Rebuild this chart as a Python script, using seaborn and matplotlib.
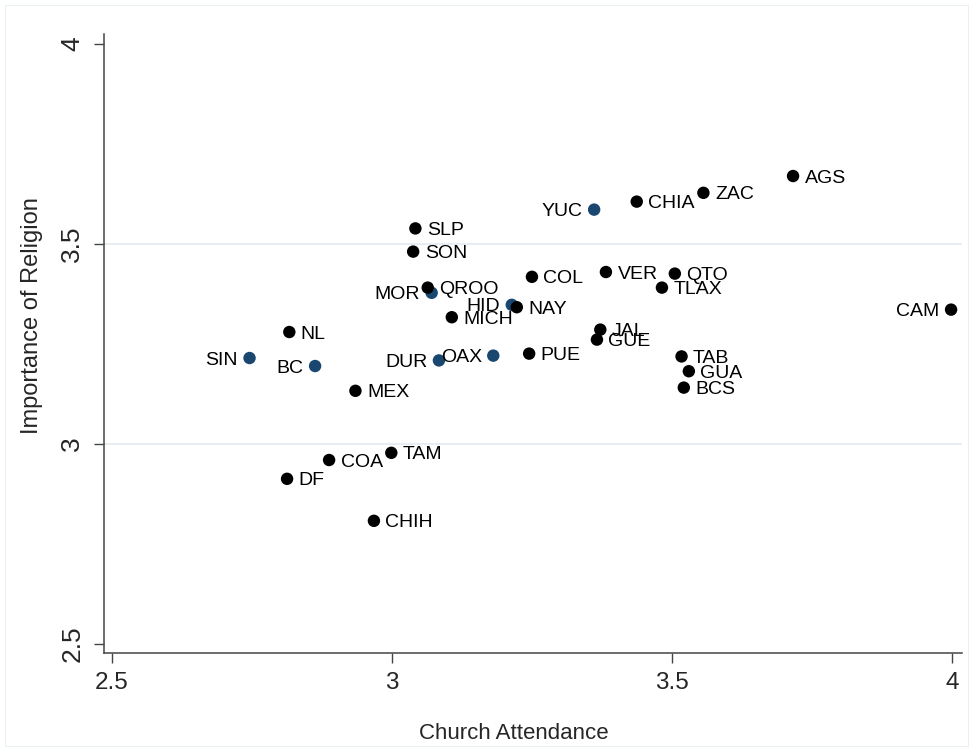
import matplotlib
matplotlib.use("Agg")
import matplotlib.pyplot as plt
import seaborn as sns
import pandas as pd
from matplotlib.patches import Rectangle

# Mexican states: mean church attendance vs. importance of religion
states = ["AGS", "BC", "BCS", "CAM", "COA", "COL", "CHIA", "CHIH", "DF", "DUR",
          "GUA", "GUE", "HID", "JAL", "MEX", "MICH", "MOR", "NAY", "NL", "OAX",
          "PUE", "QTO", "QROO", "SLP", "SIN", "SON", "TAB", "TAM", "TLAX", "VER",
          "YUC", "ZAC"]
attendance = [3.716, 2.863, 3.521, 3.998, 2.888, 3.250, 3.437, 2.968, 2.813, 3.084,
              3.530, 3.366, 3.214, 3.372, 2.935, 3.107, 3.071, 3.223, 2.817, 3.181,
              3.245, 3.505, 3.064, 3.042, 2.746, 3.038, 3.517, 2.999, 3.482, 3.382,
              3.361, 3.556]
importance = [3.670, 3.195, 3.141, 3.336, 2.960, 3.418, 3.606, 2.808, 2.913, 3.209,
              3.182, 3.261, 3.348, 3.286, 3.133, 3.317, 3.378, 3.342, 3.280, 3.221,
              3.226, 3.426, 3.391, 3.539, 3.215, 3.481, 3.219, 2.978, 3.391, 3.430,
              3.586, 3.628]
group = ["a", "b", "a", "a", "a", "a", "a", "a", "a", "b",
         "a", "a", "b", "a", "a", "a", "b", "a", "a", "b",
         "a", "a", "a", "a", "b", "a", "a", "a", "a", "a",
         "b", "a"]
label_left = ["MOR", "HID", "OAX", "DUR", "SIN", "BC", "YUC", "CAM"]

x_ticks = [2.5, 3, 3.5, 4]
y_ticks = [2.5, 3, 3.5, 4]
x_ticklabels = ["2.5", "3", "3.5", "4"]
y_ticklabels = ["2.5", "3", "3.5", "4"]

df = pd.DataFrame({"state": states, "attendance": attendance,
                   "importance": importance, "group": group})

sns.set_theme(style="white")
plt.rcParams["font.family"] = ["Liberation Sans", "DejaVu Sans"]

fig = plt.figure(figsize=(9.73, 7.51), dpi=100)
fig.patch.set_facecolor("white")
ax = fig.add_axes([0.1069, 0.1301, 0.8818, 0.8246])

# faint outer frame of the graph region
fig.patches.append(Rectangle((5 / 973, 5 / 751), 1 - 10 / 973, 1 - 10 / 751,
                             transform=fig.transFigure, fill=False,
                             edgecolor="#eaf0f3", linewidth=0.8))

ax.set_xlim(2.4863, 4.0175)
ax.set_ylim(2.4768, 4.025)

for yv in [3, 3.5]:
    ax.axhline(yv, color="#e4edf0", linewidth=1.3, zorder=0)

sns.scatterplot(data=df, x="attendance", y="importance", hue="group",
                palette={"a": "black", "b": "#1a476f"}, s=80, linewidth=0,
                legend=False, ax=ax, zorder=3)

for name, xv, yv in zip(states, attendance, importance):
    if name in label_left:
        ax.annotate(name, (xv, yv), xytext=(-8.3, 0), textcoords="offset points",
                    ha="right", va="center_baseline", fontsize=14, color="black",
                    zorder=4)
    else:
        ax.annotate(name, (xv, yv), xytext=(8.3, 0), textcoords="offset points",
                    ha="left", va="center_baseline", fontsize=14, color="black",
                    zorder=4)

ax.set_xticks(x_ticks)
ax.set_xticklabels(x_ticklabels, fontsize=17.5)
ax.set_yticks(y_ticks)
ax.set_yticklabels(y_ticklabels, fontsize=19, rotation=90, va="center")

ax.tick_params(axis="both", which="major", direction="out", length=7.2,
               width=1.0, color="#444444", bottom=True, left=True)
ax.tick_params(axis="x", pad=6)
ax.tick_params(axis="y", pad=7)

for side in ["top", "right"]:
    ax.spines[side].set_visible(False)
for side in ["left", "bottom"]:
    ax.spines[side].set_color("#444444")
    ax.spines[side].set_linewidth(1.1)

ax.set_xlabel("Church Attendance", fontsize=16)
ax.xaxis.set_label_coords(0.478, -0.113)
ax.set_ylabel("Importance of Religion", fontsize=17)
ax.yaxis.set_label_coords(-0.071, 0.546)
ax.grid(False)

fig.savefig("out.png", dpi=100, facecolor="white")
